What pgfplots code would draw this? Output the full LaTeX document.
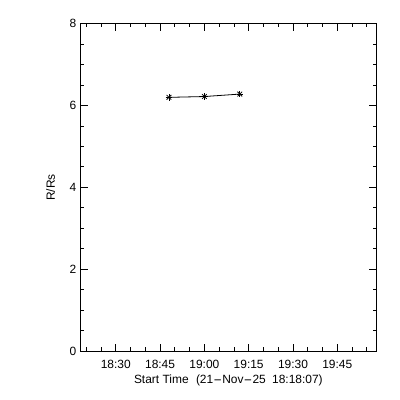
\documentclass[border=0pt]{standalone}
\usepackage{pgfplots}
\pgfplotsset{compat=1.18}
\usepackage{fontspec}
\setmainfont{Liberation Sans}
\newcommand\hd{\makebox[9bp]{\scalebox{2.2}[1]{-}}}
\begin{document}
\begin{tikzpicture}[x=1bp,y=1bp]
\useasboundingbox (0,0) rectangle (400,400);
\begin{axis}[
  at={(80.7bp,49bp)}, anchor=south west,
  scale only axis, width=295.3bp, height=327.3bp,
  xmin=18.12, xmax=118.12, ymin=0, ymax=8,
  xtick={30,45,60,75,90,105},
  xticklabels={18:30,18:45,19:00,19:15,19:30,19:45},
  minor xtick={20,25,35,40,50,55,65,70,80,85,95,100,110,115},
  ytick={0,2,4,6,8},
  minor y tick num=3,
  tick align=inside, xtick pos=both, ytick pos=both,
  major tick length=7bp, minor tick length=3.5bp,
  every tick/.style={black, line width=0.8bp},
  axis line style={line width=0.8bp},
  /pgf/number format/assume math mode=true,
  tick label style={font=\fontsize{12}{14}\selectfont},
  label style={font=\fontsize{12}{14}\selectfont},
  xlabel={Start Time\hspace{4bp} (21\hd Nov\hd 25\hspace{3bp} 18:18:07)},
  ylabel={R/Rs},
  xlabel style={at={(axis description cs:0.5,0)}, anchor=center, yshift=-29bp},
  ylabel style={at={(axis description cs:-0.1016,0.5)}, anchor=center},
  xticklabel style={yshift=-5.5bp},
  yticklabel style={xshift=-1bp},
]
\addplot[black, line width=0.8bp, mark=x, mark size=3.3bp, mark options={line width=0.8bp}] coordinates {(48,6.20) (60,6.22) (72,6.28)};
\addplot[black, only marks, mark=+, mark size=3.3bp, mark options={line width=0.8bp}] coordinates {(48,6.20) (60,6.22) (72,6.28)};
\end{axis}
\end{tikzpicture}
\end{document}
